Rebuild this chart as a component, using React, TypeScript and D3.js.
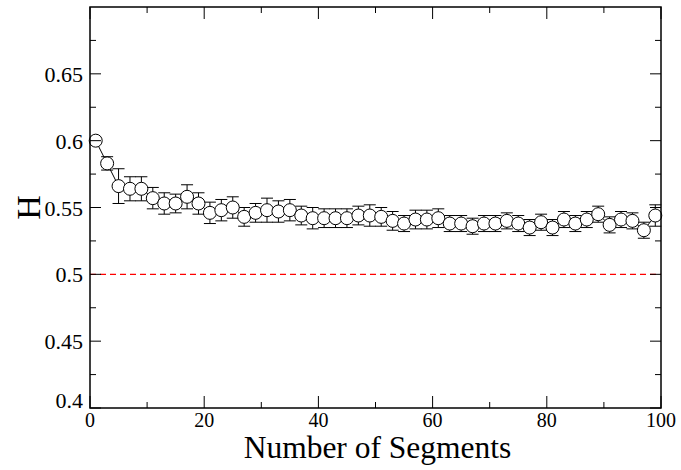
import * as d3 from "d3";

const segments = d3.range(1, 100, 2);
const hValues = [
  0.6, 0.583, 0.566, 0.564, 0.564, 0.557, 0.553, 0.553, 0.558, 0.553,
  0.546, 0.548, 0.55, 0.543, 0.546, 0.548, 0.547, 0.548, 0.544, 0.542,
  0.542, 0.542, 0.542, 0.544, 0.544, 0.543, 0.54, 0.538, 0.541, 0.541,
  0.542, 0.538, 0.538, 0.536, 0.538, 0.538, 0.54, 0.538, 0.535, 0.539,
  0.535, 0.541, 0.538, 0.541, 0.545, 0.537, 0.541, 0.54, 0.533, 0.544,
];
const hErrors = [
  0.001, 0.005, 0.013, 0.009, 0.009, 0.008, 0.008, 0.007, 0.009, 0.008,
  0.008, 0.008, 0.008, 0.007, 0.007, 0.009, 0.008, 0.008, 0.007, 0.008,
  0.007, 0.007, 0.007, 0.007, 0.008, 0.007, 0.007, 0.006, 0.007, 0.007,
  0.007, 0.006, 0.006, 0.006, 0.006, 0.006, 0.006, 0.006, 0.006, 0.006,
  0.006, 0.006, 0.006, 0.006, 0.006, 0.006, 0.006, 0.006, 0.006, 0.008,
];
const xTicks = [0, 20, 40, 60, 80, 100];
const xMinor = [10, 30, 50, 70, 90];
const yTicks = [0.4, 0.45, 0.5, 0.55, 0.6, 0.65];
const yMinor = [0.425, 0.475, 0.525, 0.575, 0.625, 0.675];
const reference = 0.5;

const width = 681;
const height = 470;
const left = 90;
const right = 661;
const top = 7;
const bottom = 408;
const font = "'Liberation Serif', 'DejaVu Serif', serif";

export default function App() {
  const x = d3.scaleLinear().domain([0, 100]).range([left, right]);
  const y = d3.scaleLinear().domain([0.4, 0.7]).range([bottom, top]);

  const pts = segments.map((s, i) => ({ s, h: hValues[i], e: hErrors[i] }));
  const line = d3
    .line<{ s: number; h: number }>()
    .x((d) => x(d.s))
    .y((d) => y(d.h));

  return (
    <svg
      width={width}
      height={height}
      style={{ position: "absolute", left: 0, top: 0, background: "#fff" }}
    >
      {/* reference line */}
      <line
        x1={x(0)}
        x2={x(100)}
        y1={y(reference)}
        y2={y(reference)}
        stroke="#ff0000"
        strokeWidth={1.3}
        strokeDasharray="6,4"
      />

      {/* error bars */}
      {pts.map((d, i) => (
        <g key={"e" + i} stroke="#000" strokeWidth={1}>
          <line x1={x(d.s)} x2={x(d.s)} y1={y(d.h - d.e)} y2={y(d.h + d.e)} />
          <line x1={x(d.s) - 6} x2={x(d.s) + 6} y1={y(d.h - d.e)} y2={y(d.h - d.e)} />
          <line x1={x(d.s) - 6} x2={x(d.s) + 6} y1={y(d.h + d.e)} y2={y(d.h + d.e)} />
        </g>
      ))}

      <path d={line(pts) || ""} fill="none" stroke="#000" strokeWidth={1} />

      {pts.map((d, i) => (
        <circle
          key={"c" + i}
          cx={x(d.s)}
          cy={y(d.h)}
          r={6.5}
          fill="#fff"
          stroke="#000"
          strokeWidth={1}
        />
      ))}

      {/* frame */}
      <rect
        x={left}
        y={top}
        width={right - left}
        height={bottom - top}
        fill="none"
        stroke="#000"
        strokeWidth={1.5}
      />

      {/* x ticks */}
      {xTicks.map((t) => (
        <g key={"xt" + t} stroke="#000" strokeWidth={1}>
          <line x1={x(t)} x2={x(t)} y1={bottom} y2={bottom - 12} />
          <line x1={x(t)} x2={x(t)} y1={top} y2={top + 12} />
        </g>
      ))}
      {xMinor.map((t) => (
        <g key={"xm" + t} stroke="#000" strokeWidth={1}>
          <line x1={x(t)} x2={x(t)} y1={bottom} y2={bottom - 6} />
          <line x1={x(t)} x2={x(t)} y1={top} y2={top + 6} />
        </g>
      ))}
      {/* y ticks */}
      {yTicks.map((t) => (
        <g key={"yt" + t} stroke="#000" strokeWidth={1}>
          <line x1={left} x2={left + 11} y1={y(t)} y2={y(t)} />
          <line x1={right} x2={right - 11} y1={y(t)} y2={y(t)} />
        </g>
      ))}
      {yMinor.map((t) => (
        <g key={"ym" + t} stroke="#000" strokeWidth={1}>
          <line x1={left} x2={left + 6} y1={y(t)} y2={y(t)} />
          <line x1={right} x2={right - 6} y1={y(t)} y2={y(t)} />
        </g>
      ))}

      {/* tick labels */}
      {xTicks.map((t) => (
        <text
          key={"xl" + t}
          x={x(t)}
          y={bottom + 19}
          textAnchor="middle"
          fontFamily={font}
          fontSize={20}
        >
          {t}
        </text>
      ))}
      {yTicks.map((t) => (
        <text
          key={"yl" + t}
          x={left - 7}
          y={t === 0.4 ? y(t) : y(t) + 8}
          textAnchor="end"
          fontFamily={font}
          fontSize={22}
        >
          {d3.format("")(t)}
        </text>
      ))}

      {/* axis titles */}
      <text
        x={(left + right) / 2 + 2}
        y={458}
        textAnchor="middle"
        fontFamily={font}
        fontSize={31.5}
      >
        Number of Segments
      </text>
      <text
        transform={`translate(40, ${y(0.55)}) rotate(-90)`}
        textAnchor="middle"
        fontFamily={font}
        fontSize={34}
      >
        H
      </text>
    </svg>
  );
}
